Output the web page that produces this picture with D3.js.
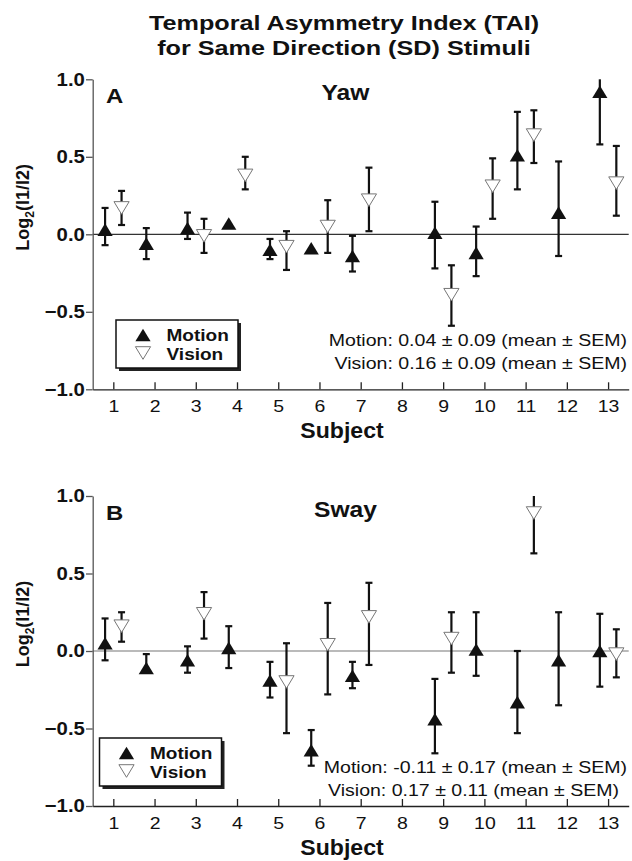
<!DOCTYPE html>
<html lang="en">
<head>
  <meta charset="UTF-8">
  <title>TAI SD</title>
  <script src="https://cdn.jsdelivr.net/npm/d3@7"></script>
</head>
<body>
</body>
<style>
  body {
    margin: 0;
    padding: 0;
    background: #fff;
  }

  text {
    font-family: "Liberation Sans", Arial, sans-serif;
    fill: #111;
  }
</style>
<script>
  // values (null = no point for that subject)
  const subjects = [1, 2, 3, 4, 5, 6, 7, 8, 9, 10, 11, 12, 13]
  const yTicks = [-1, -0.5, 0, 0.5, 1]

  const yawMotion   = [0.03, -0.06, 0.04, 0.07, -0.10, -0.09, -0.14, null, 0.01, -0.12, 0.51, 0.14, 0.92]
  const yawMotionLo = [-0.07, -0.16, -0.03, 0.07, -0.16, -0.09, -0.24, null, -0.22, -0.27, 0.29, -0.14, 0.58]
  const yawMotionHi = [0.17, 0.04, 0.14, 0.07, -0.03, -0.09, -0.01, null, 0.21, 0.05, 0.79, 0.47, 1.26]

  const yawVision   = [0.17, null, -0.01, 0.38, -0.08, 0.05, 0.22, null, -0.39, 0.31, 0.64, null, 0.33]
  const yawVisionLo = [0.06, null, -0.12, 0.29, -0.23, -0.12, 0.02, null, -0.59, 0.10, 0.46, null, 0.12]
  const yawVisionHi = [0.28, null, 0.10, 0.50, 0.02, 0.22, 0.43, null, -0.20, 0.49, 0.80, null, 0.57]

  const swayMotion   = [0.05, -0.11, -0.06, 0.02, -0.19, -0.64, -0.16, null, -0.44, 0.01, -0.33, -0.06, 0.00]
  const swayMotionLo = [-0.06, -0.11, -0.14, -0.11, -0.30, -0.74, -0.24, null, -0.66, -0.16, -0.53, -0.35, -0.23]
  const swayMotionHi = [0.21, -0.02, 0.03, 0.16, -0.07, -0.51, -0.07, null, -0.18, 0.25, 0.00, 0.25, 0.24]

  const swayVision   = [0.16, null, 0.24, null, -0.20, 0.04, 0.22, null, 0.08, null, 0.89, null, -0.02]
  const swayVisionLo = [0.06, null, 0.08, null, -0.53, -0.28, -0.09, null, -0.14, null, 0.63, null, -0.17]
  const swayVisionHi = [0.25, null, 0.38, null, 0.05, 0.31, 0.44, null, 0.25, null, 1.15, null, 0.14]

  const width = 632
  const height = 861
  const plotLeft = 92.7
  const plotRight = 628.7
  const centerX = 344

  const upTri = "M0,-6.3L7.6,6.3L-7.6,6.3Z"
  const downTri = "M-7.6,-6.3L7.6,-6.3L0,6.3Z"

  const svg = d3.select("body").append("svg")
    .attr("width", width)
    .attr("height", height)

  // the original lettering is a bit wider than Helvetica, so stretch it sideways
  function label(parent, x, y, str, size, k, anchor, bold) {
    return parent.append("text")
      .attr("transform", `translate(${x},${y}) scale(${k},1)`)
      .attr("text-anchor", anchor || "start")
      .style("font-size", size + "px")
      .style("font-weight", bold ? "bold" : "normal")
      .text(str)
  }

  label(svg, centerX, 30, "Temporal Asymmetry Index (TAI)", 21, 1.2, "middle", true)
  label(svg, centerX, 55, "for Same Direction (SD) Stimuli", 21, 1.2, "middle", true)

  function series(mean, lo, hi, offset) {
    return subjects.map((s, i) => ({ x: s + offset, v: mean[i], lo: lo[i], hi: hi[i] }))
      .filter(d => d.v !== null)
  }

  function panel(cfg) {
    const x = d3.scaleLinear().domain([0.5, 13.5]).range([plotLeft, plotRight])
    const y = d3.scaleLinear().domain([-1, 1]).range([cfg.bottom, cfg.top])
    const g = svg.append("g")

    // zero line
    g.append("line")
      .attr("x1", plotLeft).attr("x2", plotRight)
      .attr("y1", y(0)).attr("y2", y(0))
      .attr("stroke", cfg.zeroColor).attr("stroke-width", 1.2)

    const yAxis = g.append("g")
      .attr("transform", `translate(${plotLeft},0)`)
      .call(d3.axisLeft(y).tickValues(yTicks).tickFormat(d3.format(".1f"))
        .tickSize(6.7).tickSizeOuter(0))
    yAxis.selectAll("path, line").attr("stroke", "#555").attr("stroke-width", 1.3)
    yAxis.selectAll("text")
      .attr("x", -7.8 / 1.1)
      .attr("transform", "scale(1.1,1)")
      .attr("fill", "#111")
      .style("font-family", "'Liberation Sans', Arial, sans-serif")
      .style("font-size", "18.5px").style("font-weight", "bold")

    const xAxis = g.append("g")
      .attr("transform", `translate(0,${cfg.bottom})`)
      .call(d3.axisBottom(x).tickValues(subjects).tickFormat(d3.format("d"))
        .tickSizeInner(-7).tickSizeOuter(0))
    xAxis.selectAll("path, line").attr("stroke", "#222").attr("stroke-width", 1.3)
    xAxis.selectAll("text")
      .attr("y", 11).attr("transform", "scale(1.18,1)").attr("fill", "#111")
      .style("font-family", "'Liberation Sans', Arial, sans-serif")
      .style("font-size", "16.5px")

    label(g, 342, cfg.bottom + 48.5, "Subject", 22, 1.05, "middle", true)

    const yl = g.append("text")
      .attr("transform", `translate(28.5,${cfg.top + 128}) rotate(-90)`)
      .attr("text-anchor", "middle")
      .style("font-size", "18px").style("font-weight", "bold")
    yl.append("tspan").text("Log")
    yl.append("tspan").attr("dy", 5).style("font-size", "12px").text("2")
    yl.append("tspan").attr("dy", -5).text("(I1/I2)")

    label(g, 106, cfg.top + 23.5, cfg.letter, 21, 1.14, "start", true)
    label(g, 345.5, cfg.top + 20.5, cfg.name, 22, 1.12, "middle", true)

    // legend box with drop shadow
    const lg = g.append("g").attr("transform", `translate(${cfg.legX},${cfg.legY})`)
    lg.append("rect").attr("x", 3).attr("y", 3).attr("width", 122).attr("height", 48).attr("fill", "#222")
    lg.append("rect").attr("width", 122).attr("height", 48)
      .attr("fill", "#fff").attr("stroke", "#111").attr("stroke-width", 1.5)
    lg.append("path").attr("d", upTri).attr("transform", "translate(27,15)").attr("fill", "#111")
    lg.append("path").attr("d", downTri).attr("transform", "translate(27,33)")
      .attr("fill", "#fff").attr("stroke", "#777").attr("stroke-width", 1)
    label(lg, 50.5, 21, "Motion", 17, 1.12, "start", true)
    label(lg, 50.5, 39.5, "Vision", 17, 1.12, "start", true)

    label(g, 627, cfg.statY, cfg.stat1, 17, 1.15, "end", false)
    label(g, cfg.stat2X, cfg.statY + 23, cfg.stat2, 17, 1.15, "end", false)

    const all = [
      { data: cfg.motion, shape: upTri, fill: "#111", stroke: "none" },
      { data: cfg.vision, shape: downTri, fill: "#fff", stroke: "#777" }
    ]

    for (const s of all) {
      const withBar = s.data.filter(d => d.hi - d.lo > 0.001)
      const bars = g.append("g").attr("stroke", "#111").attr("stroke-width", 2.2)
      bars.selectAll("line.bar")
        .data(withBar)
        .join("line")
        .attr("class", "bar")
        .attr("x1", d => x(d.x)).attr("x2", d => x(d.x))
        .attr("y1", d => y(Math.min(d.hi, 1))).attr("y2", d => y(Math.max(d.lo, -1)))
      // caps, skipped where the bar runs off the axis
      const ends = []
      withBar.forEach(d => {
        if (d.hi <= 1 && d.hi > d.v) ends.push({ x: d.x, v: d.hi })
        if (d.lo >= -1 && d.lo < d.v) ends.push({ x: d.x, v: d.lo })
      })
      bars.selectAll("line.cap")
        .data(ends)
        .join("line")
        .attr("class", "cap")
        .attr("x1", d => x(d.x) - 3.5).attr("x2", d => x(d.x) + 3.5)
        .attr("y1", d => y(d.v)).attr("y2", d => y(d.v))

      g.append("g").selectAll("path")
        .data(s.data)
        .join("path")
        .attr("d", s.shape)
        .attr("transform", d => `translate(${x(d.x)},${y(d.v)})`)
        .attr("fill", s.fill)
        .attr("stroke", s.stroke)
        .attr("stroke-width", 1)
    }
  }

  panel({
    top: 79.3, bottom: 389.3, letter: "A", name: "Yaw", zeroColor: "#333",
    legX: 116, legY: 320, statY: 345.7, stat2X: 627,
    stat1: "Motion: 0.04 \u00b1 0.09 (mean \u00b1 SEM)",
    stat2: "Vision: 0.16 \u00b1 0.09 (mean \u00b1 SEM)",
    motion: series(yawMotion, yawMotionLo, yawMotionHi, -0.2),
    vision: series(yawVision, yawVisionLo, yawVisionHi, 0.2)
  })

  panel({
    top: 496, bottom: 806, letter: "B", name: "Sway", zeroColor: "#777",
    legX: 99.5, legY: 738, statY: 773.3, stat2X: 619,
    stat1: "Motion: -0.11 \u00b1 0.17 (mean \u00b1 SEM)",
    stat2: "Vision: 0.17 \u00b1 0.11 (mean \u00b1 SEM)",
    motion: series(swayMotion, swayMotionLo, swayMotionHi, -0.2),
    vision: series(swayVision, swayVisionLo, swayVisionHi, 0.2)
  })
</script>
</html>
